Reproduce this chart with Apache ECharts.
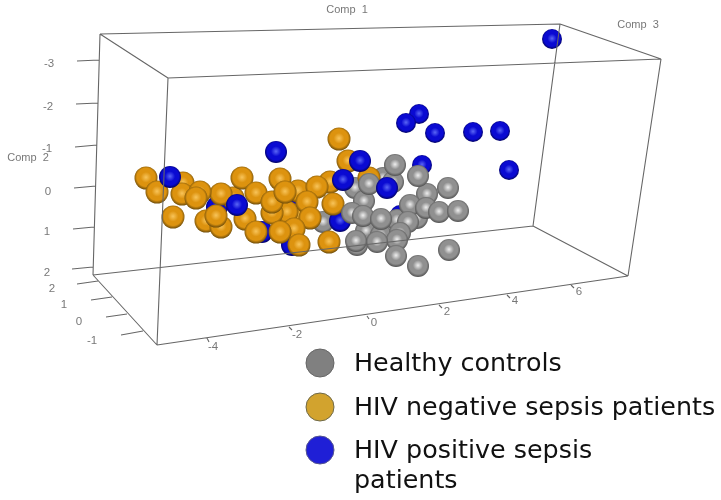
<!DOCTYPE html>
<html>
<head>
<meta charset="utf-8">
<style>
  html, body { margin: 0; padding: 0; background: #fff; }
  #chart { width: 721px; height: 500px; filter: blur(0.35px); }
</style>
<script src="https://cdn.jsdelivr.net/npm/echarts@6/dist/echarts.min.js"></script>
</head>
<body>
<div id="chart"></div>
<script>
// points, each list runs from back to front
const blueFar = [[552,39],[419,114],[406,123],[435,133],[473,132],[500,131],[509,170],[422,165],[400,215]];
const greyBack = [[383,178],[393,182],[355,188],[323,222],[397,220],[417,218],[357,245],[364,201],[366,231],[381,235]];
const blueMid = [[217,207],[262,232],[292,245],[300,202],[340,221]];
const goldAll = [[183,183],[233,198],[221,194],[146,178],[157,192],[182,194],[200,192],[196,198],[173,217],[242,178],
  [256,193],[206,221],[221,227],[216,216],[245,219],[256,232],[330,182],[298,191],[317,187],[297,215],[287,212],[272,213],
  [272,202],[280,179],[285,192],[307,202],[310,218],[294,229],[280,232],[299,245],[333,204],[348,161],[339,139],[369,178],[329,242]];
const greyFront = [[395,165],[369,184],[427,194],[448,188],[418,176],[352,213],[363,216],[381,219],[410,205],[408,222],
  [426,208],[439,212],[458,211],[400,233],[397,240],[356,241],[377,242],[396,256],[418,266],[449,250]];
const blueNear = [[276,152],[170,177],[237,205],[360,161],[343,180],[387,188]];

// box edges and tick marks as x1,y1,x2,y2
const boxEdges = [[100,34,560,24],[100,34,168,78],[560,24,661,59],[168,78,661,59],[100,34,93,275],[168,78,157,345],
  [560,24,533,226],[661,59,628,276],[93,275,157,345],[93,275,533,226],[157,345,628,276],[533,226,628,276]];
const comp2Ticks = [[77,61,99,60],[76,104,98,103],[75,147,97,145],[74,188,96,186],[73,229,94,227],[72,269,93,267]];
const comp3Ticks = [[77,284,98,281],[91,300,112,297],[106,317,127,314],[121,335,143,331]];
const comp1Ticks = [[207,338,209,342],[289,327,292,330],[367,316,369,319],[439,305,442,308],[507,295,510,298],[571,285,574,288]];

// tick labels
const comp2Labels = [[49,64,'-3'],[48,107,'-2'],[47,149,'-1'],[48,192,'0'],[47,232,'1'],[47,273,'2']];
const comp3Labels = [[52,289,'2'],[64,305,'1'],[79,322,'0'],[92,341,'-1']];
const comp1Labels = [[213,347,'-4'],[297,335,'-2'],[374,323,'0'],[447,312,'2'],[515,301,'4'],[579,292,'6']];
const axisTitles = [[347,10,'Comp  1'],[638,25,'Comp  3'],[28,158,'Comp  2']];

// 球体的渐变
const sphere = (hi, mid, edge) => ({
  type: 'radial', x: 0.5, y: 0.47, r: 0.55,
  colorStops: [
    { offset: 0, color: hi },
    { offset: 0.42, color: mid },
    { offset: 0.72, color: mid },
    { offset: 1, color: edge }
  ]
});
const blueBall = sphere('#5a66f5', '#0a0ad2', '#00004e');
const goldBall = sphere('#f8c45a', '#dd930f', '#5e4208');
const greyBall = sphere('#eeeeee', '#909090', '#454545');

const ballSeries = (name, data, color, size) => ({
  name, type: 'scatter', data, symbolSize: size, silent: true,
  itemStyle: { color, opacity: 1 }
});

const segments = (list) => list.flatMap(s => [[s[0], s[1]], [s[2], s[3]], ['-', '-']]);
const lineSeries = (data) => ({
  type: 'line', data: segments(data), showSymbol: false, silent: true, connectNulls: false,
  lineStyle: { color: '#666', width: 1.1 }
});
const textSeries = (data, size) => ({
  type: 'scatter', data, symbolSize: 0, silent: true,
  label: {
    show: true, position: 'inside', formatter: p => p.value[2],
    fontFamily: 'Liberation Sans', fontSize: size, color: '#555'
  }
});

// 图例
const legendRows = [
  { y: 363, color: '#808080', border: '#666', text: 'Healthy controls' },
  { y: 407, color: '#d2a32e', border: '#6f6a4a', text: 'HIV negative sepsis patients' },
  { y: 450, color: '#1f1fd6', border: '#55558f', text: 'HIV positive sepsis\npatients' }
];
const legendGraphic = legendRows.flatMap(r => [
  { type: 'circle', shape: { cx: 320, cy: r.y, r: 14 }, style: { fill: r.color, stroke: r.border, lineWidth: 1 } },
  { type: 'text', x: 354, y: r.y - 14, style: {
    text: r.text, fill: '#111', font: '25.4px "DejaVu Sans"', lineHeight: 30, textVerticalAlign: 'top'
  } }
]);

const option = {
  animation: false,
  backgroundColor: '#fff',
  grid: { left: 0, right: 0, top: 0, bottom: 0 },
  xAxis: { type: 'value', min: 0, max: 721, show: false },
  yAxis: { type: 'value', min: 0, max: 500, inverse: true, show: false },
  graphic: legendGraphic,
  series: [
    lineSeries(boxEdges.concat(comp2Ticks, comp3Ticks, comp1Ticks)),
    textSeries(comp2Labels.concat(comp3Labels, comp1Labels), 11.5),
    textSeries(axisTitles, 11),
    ballSeries('HIV positive sepsis patients', blueFar, blueBall, 20),
    ballSeries('Healthy controls', greyBack, greyBall, 22),
    ballSeries('HIV positive sepsis patients', blueMid, blueBall, 22),
    ballSeries('HIV negative sepsis patients', goldAll, goldBall, 23),
    ballSeries('Healthy controls', greyFront, greyBall, 22),
    ballSeries('HIV positive sepsis patients', blueNear, blueBall, 22)
  ]
};

const myChart = echarts.init(document.getElementById('chart'), null, { renderer: 'canvas' });
myChart.setOption(option);
</script>
</body>
</html>
